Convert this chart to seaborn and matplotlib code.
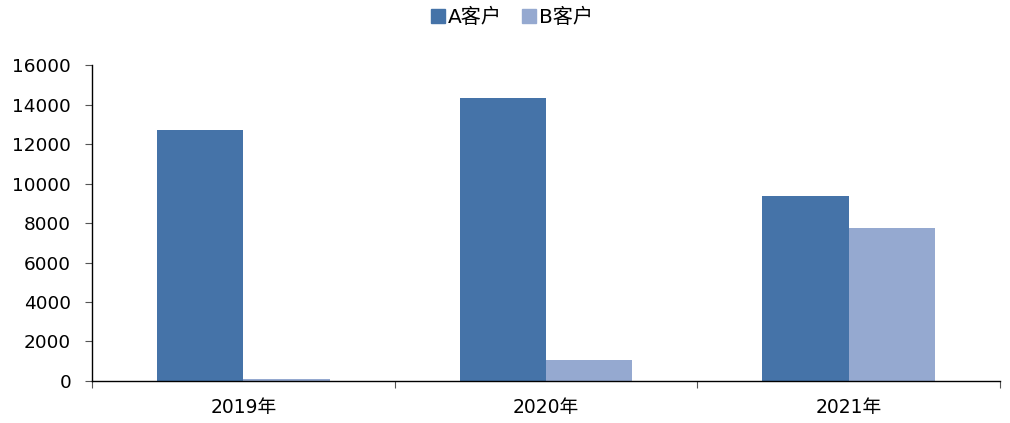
import numpy as np
import pandas as pd
import matplotlib
matplotlib.use("Agg")
import matplotlib.pyplot as plt
import seaborn as sns

# ===============================
# 数据
# ===============================
years = ["2019年", "2020年", "2021年"]
clients = ["A客户", "B客户"]
a_values = [12700, 14330, 9370]
b_values = [80, 1060, 7750]
colors = ["#4573A8", "#95A9D0"]

df = pd.DataFrame({
    "year": years * 2,
    "client": [clients[0]] * 3 + [clients[1]] * 3,
    "value": a_values + b_values,
})

sns.set_theme(style="white")
plt.rcParams['font.family'] = ['DejaVu Sans', 'Noto Sans CJK SC']

fig = plt.figure(figsize=(10.1, 4.23), dpi=100)
ax = fig.add_axes([0.0911, 0.0993, 0.899, 0.747])

sns.barplot(data=df, x="year", y="value", hue="client", palette=colors,
            width=0.57, saturation=1, linewidth=0, ax=ax, legend=False)

ax.set_xlim(-0.5, 2.5)
ax.set_ylim(0, 16000)
ax.set_yticks(np.arange(0, 16001, 2000))
ax.set_xlabel("")
ax.set_ylabel("")

# 坐标轴样式
for side in ["top", "right"]:
    ax.spines[side].set_visible(False)
for side in ["left", "bottom"]:
    ax.spines[side].set_color("black")
    ax.spines[side].set_linewidth(1.0)

ax.tick_params(axis="y", which="major", direction="out", length=5, width=0.8,
               color="#555555", labelsize=13.3, labelcolor="black", left=True, pad=10)
ax.tick_params(axis="x", which="major", length=0, labelsize=13.5, labelcolor="black", pad=12)
ax.set_xticks([-0.5, 0.5, 1.5, 2.5], minor=True)
ax.tick_params(axis="x", which="minor", direction="out", length=5, width=0.8,
               color="#555555", bottom=True)

# 图例
handles = [plt.Rectangle((0, 0), 1, 1, color=c) for c in colors]
leg = fig.legend(handles, clients, loc="center", bbox_to_anchor=(0.507, 0.958),
                 ncol=2, frameon=False, fontsize=14.5, handlelength=0.7, handleheight=0.7,
                 handletextpad=0.15, columnspacing=1.0)
for t in leg.get_texts():
    t.set_color("black")

plt.savefig("out.png", dpi=100)
plt.close()
